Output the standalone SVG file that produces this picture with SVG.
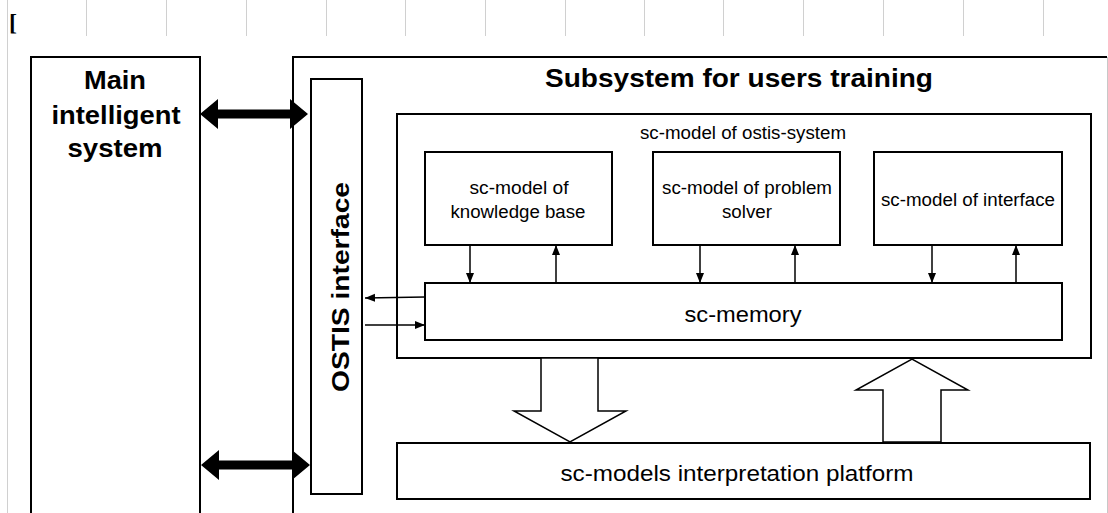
<svg xmlns="http://www.w3.org/2000/svg" width="1108" height="513" viewBox="0 0 1108 513">
<style>
.box{fill:#fff;stroke:#000;stroke-width:2}
.grid{stroke:#d0d0d0;stroke-width:1}
.t{font-family:"Liberation Sans",Arial,sans-serif;fill:#000;text-anchor:middle}
.b{font-weight:bold}
.ln{stroke:#000;stroke-width:1.5;fill:none}
.blk{fill:#000;stroke:none}
.barrow{fill:#fff;stroke:#000;stroke-width:1.5;stroke-linejoin:miter}
</style>
<defs>
<marker id="ah" viewBox="0 0 10 10" refX="10" refY="5" markerWidth="10" markerHeight="10" markerUnits="userSpaceOnUse" orient="auto">
<path d="M0,1 L10,5 L0,9 Z" fill="#000"/>
</marker>
</defs>
<rect width="1108" height="513" fill="#fff"/>
<g id="grid">
<line class="grid" x1="7.5" y1="0" x2="7.5" y2="513"/>
<line class="grid" x1="86.5" y1="0" x2="86.5" y2="36"/>
<line class="grid" x1="166.5" y1="0" x2="166.5" y2="36"/>
<line class="grid" x1="246.5" y1="0" x2="246.5" y2="36"/>
<line class="grid" x1="326.5" y1="0" x2="326.5" y2="36"/>
<line class="grid" x1="405.5" y1="0" x2="405.5" y2="36"/>
<line class="grid" x1="485.5" y1="0" x2="485.5" y2="36"/>
<line class="grid" x1="565.5" y1="0" x2="565.5" y2="36"/>
<line class="grid" x1="644.5" y1="0" x2="644.5" y2="36"/>
<line class="grid" x1="723.5" y1="0" x2="723.5" y2="36"/>
<line class="grid" x1="803.5" y1="0" x2="803.5" y2="36"/>
<line class="grid" x1="883.5" y1="0" x2="883.5" y2="36"/>
<line class="grid" x1="963.5" y1="0" x2="963.5" y2="36"/>
<line class="grid" x1="1043.5" y1="0" x2="1043.5" y2="36"/>
<text x="9" y="30" font-family="Liberation Serif,serif" font-size="24" font-weight="bold" fill="#000">[</text>
</g>
<g id="main-system">
<path d="M31,513 V57 H200 V513" fill="#fff" stroke="#000" stroke-width="2"/>
<text class="t b" x="115" y="89" font-size="25" textLength="62" lengthAdjust="spacingAndGlyphs">Main</text>
<text class="t b" x="116" y="124" font-size="25" textLength="129" lengthAdjust="spacingAndGlyphs">intelligent</text>
<text class="t b" x="115" y="157" font-size="25" textLength="95" lengthAdjust="spacingAndGlyphs">system</text>
</g>
<g id="subsystem">
<path d="M293,513 V57 H1107" fill="none" stroke="#000" stroke-width="2"/>
<line x1="1107.5" y1="57" x2="1107.5" y2="513" stroke="#c8c8c8" stroke-width="1"/>
<text class="t b" x="739" y="87" font-size="26" textLength="388" lengthAdjust="spacingAndGlyphs">Subsystem for users training</text>
</g>
<g id="ostis-interface">
<rect class="box" x="311" y="79" width="51" height="415"/>
<text class="t b" transform="translate(349,287) rotate(-90)" font-size="24" textLength="210" lengthAdjust="spacingAndGlyphs">OSTIS interface</text>
</g>
<g id="sc-model-ostis">
<rect class="box" x="397" y="114" width="694" height="244"/>
<text class="t" x="743" y="139" font-size="18" textLength="206" lengthAdjust="spacingAndGlyphs">sc-model of ostis-system</text>
</g>
<g id="kb">
<rect class="box" x="425" y="152" width="187" height="93"/>
<text class="t" x="519" y="194" font-size="18" textLength="99" lengthAdjust="spacingAndGlyphs">sc-model of</text>
<text class="t" x="518" y="218" font-size="18" textLength="135" lengthAdjust="spacingAndGlyphs">knowledge base</text>
</g>
<g id="solver">
<rect class="box" x="653" y="152" width="187" height="93"/>
<text class="t" x="747" y="194" font-size="18" textLength="170" lengthAdjust="spacingAndGlyphs">sc-model of problem</text>
<text class="t" x="747" y="218" font-size="18" textLength="50" lengthAdjust="spacingAndGlyphs">solver</text>
</g>
<g id="interface">
<rect class="box" x="874" y="152" width="188" height="93"/>
<text class="t" x="968" y="206" font-size="18" textLength="174" lengthAdjust="spacingAndGlyphs">sc-model of interface</text>
</g>
<g id="memory">
<rect class="box" x="425" y="283" width="637" height="57"/>
<text class="t" x="743" y="322" font-size="22" textLength="117" lengthAdjust="spacingAndGlyphs">sc-memory</text>
</g>
<g id="platform">
<rect class="box" x="397" y="443" width="693" height="56"/>
<text class="t" x="737" y="481" font-size="22" textLength="353" lengthAdjust="spacingAndGlyphs">sc-models interpretation platform</text>
</g>
<g id="connectors">
<polygon class="blk" points="200,114 218,99 218,109.5 290,109.5 290,99 308,114 290,129 290,118.5 218,118.5 218,129"/>
<polygon class="blk" points="201,465 219,450 219,460.5 292,460.5 292,450 310,465 292,480 292,469.5 219,469.5 219,480"/>
<line class="ln" x1="470" y1="245" x2="470" y2="283" marker-end="url(#ah)"/>
<line class="ln" x1="556" y1="283" x2="556" y2="245" marker-end="url(#ah)"/>
<line class="ln" x1="700" y1="245" x2="700" y2="283" marker-end="url(#ah)"/>
<line class="ln" x1="795" y1="283" x2="795" y2="245" marker-end="url(#ah)"/>
<line class="ln" x1="932" y1="245" x2="932" y2="283" marker-end="url(#ah)"/>
<line class="ln" x1="1016" y1="283" x2="1016" y2="245" marker-end="url(#ah)"/>
<line class="ln" x1="425" y1="297" x2="365" y2="298" marker-end="url(#ah)"/>
<line class="ln" x1="365" y1="325" x2="425" y2="325" marker-end="url(#ah)"/>
<polygon class="barrow" points="541,358 598,358 598,411 626,411 570,442 514,411 541,411"/>
<polygon class="barrow" points="883,442 941,442 941,390 968,390 912,359 856,390 883,390"/>
</g>
</svg>
